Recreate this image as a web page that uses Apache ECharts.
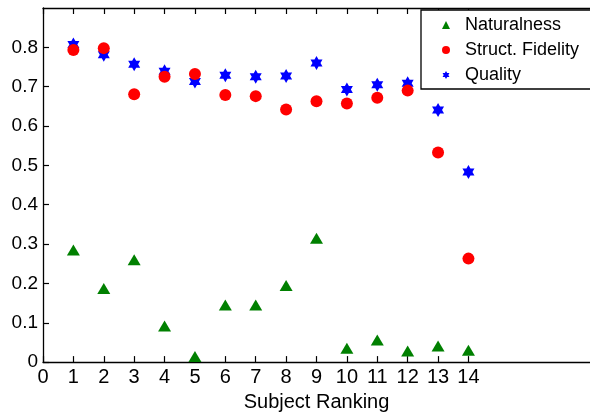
<!DOCTYPE html>
<html>
<head>
<meta charset="utf-8">
<script src="https://cdn.jsdelivr.net/npm/echarts@6/dist/echarts.min.js"></script>
<style>
  html, body { margin: 0; padding: 0; background: #fff; }
  #main { width: 590px; height: 417px; }
</style>
</head>
<body>
<div id="main"></div>
<script>
// subject ranking 1..14
const ranks = [1, 2, 3, 4, 5, 6, 7, 8, 9, 10, 11, 12, 13, 14];
const naturalness = [0.285, 0.187, 0.260, 0.092, 0.014, 0.145, 0.145, 0.195, 0.315, 0.035, 0.056, 0.028, 0.041, 0.030];
const fidelity = [0.793, 0.798, 0.681, 0.725, 0.732, 0.679, 0.676, 0.642, 0.663, 0.657, 0.672, 0.690, 0.533, 0.263];
const quality = [0.807, 0.781, 0.757, 0.739, 0.713, 0.729, 0.725, 0.727, 0.760, 0.693, 0.705, 0.709, 0.641, 0.483];
const xTicks = [0, 1, 2, 3, 4, 5, 6, 7, 8, 9, 10, 11, 12, 13, 14];
const yTicks = [0, 0.1, 0.2, 0.3, 0.4, 0.5, 0.6, 0.7, 0.8];

const FONT = 'Liberation Sans';
// six-pointed star (MATLAB 'h'-like hexagram)
const hexagram = 'path://M0,-10 L2.89,-5 L8.66,-5 L5.77,0 L8.66,5 L2.89,5 L0,10 L-2.89,5 L-8.66,5 L-5.77,0 L-8.66,-5 L-2.89,-5 Z';

const pair = (ys) => ranks.map((x, i) => [x, ys[i]]);

const chart = echarts.init(document.getElementById('main'), null, { renderer: 'canvas' });

const xCommon = {
  type: 'value',
  min: 0,
  max: 18,
  interval: 1,
  axisLine: { onZero: false, lineStyle: { color: '#000', width: 1.3 } },
  axisTick: { show: true, inside: true, length: 6, customValues: xTicks, lineStyle: { color: '#000', width: 1.2 } },
  splitLine: { show: false }
};

chart.setOption({
  backgroundColor: '#fff',
  animation: false,
  grid: { left: 43, top: 8, right: -4, bottom: 48 },
  legend: {
    orient: 'vertical',
    left: 421,
    top: 10,
    data: [
      { name: 'Naturalness', icon: 'triangle' },
      { name: 'Struct. Fidelity', icon: 'circle' },
      { name: 'Quality', icon: hexagram }
    ],
    itemWidth: 8,
    itemHeight: 8,
    itemGap: 7,
    padding: [6, 40, 5, 21],
    borderColor: '#000',
    borderWidth: 1.3,
    backgroundColor: '#fff',
    textStyle: { fontFamily: FONT, fontSize: 18, color: '#000', padding: [0, 0, 0, 10] }
  },
  xAxis: [
    Object.assign({}, xCommon, {
      position: 'bottom',
      name: 'Subject Ranking',
      nameLocation: 'middle',
      nameGap: 27,
      nameTextStyle: { fontFamily: FONT, fontSize: 20, color: '#000' },
      axisLabel: { customValues: xTicks, fontFamily: FONT, fontSize: 20, color: '#000', margin: 5 }
    }),
    Object.assign({}, xCommon, {
      position: 'top',
      axisLabel: { show: false, customValues: xTicks }
    })
  ],
  yAxis: {
    type: 'value',
    min: 0,
    max: 0.9,
    interval: 0.1,
    axisLine: { show: true, lineStyle: { color: '#000', width: 1.3 } },
    axisTick: { show: true, inside: true, length: 6, customValues: yTicks, lineStyle: { color: '#000', width: 1.2 } },
    axisLabel: { customValues: yTicks, fontFamily: FONT, fontSize: 19, color: '#000', margin: 5 },
    splitLine: { show: false }
  },
  series: [
    {
      name: 'Naturalness',
      type: 'scatter',
      symbol: 'triangle',
      symbolSize: [13, 11],
      itemStyle: { color: '#008000', opacity: 1 },
      data: pair(naturalness),
      z: 2
    },
    {
      name: 'Quality',
      type: 'scatter',
      symbol: hexagram,
      symbolSize: [12, 14],
      itemStyle: { color: '#0000ff', opacity: 1 },
      data: pair(quality),
      z: 2
    },
    {
      name: 'Struct. Fidelity',
      type: 'scatter',
      symbol: 'circle',
      symbolSize: 12,
      itemStyle: { color: '#ff0000', opacity: 1 },
      data: pair(fidelity),
      z: 3
    }
  ]
});
</script>
</body>
</html>
